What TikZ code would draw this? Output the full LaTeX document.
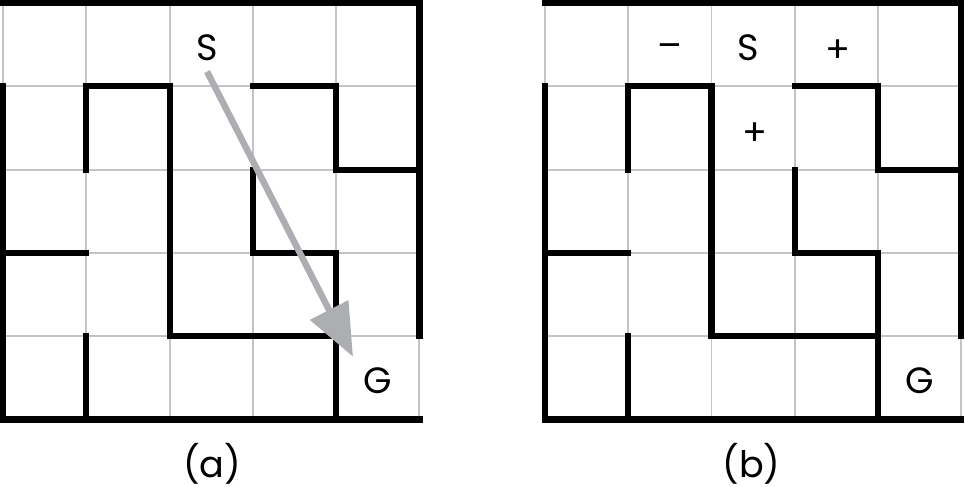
\documentclass[tikz,border=0pt]{standalone}
\usepackage{fontspec}
\setmainfont{Poppins}
\usetikzlibrary{positioning, calc, arrows.meta}
\definecolor{cellgray}{RGB}{196,196,198}
\definecolor{arrowgray}{RGB}{172,174,178}
\tikzset{gridline/.style={cellgray, line width=0.65pt}}
\tikzset{wall/.style={black, line width=2.1pt, line cap=rect, line join=miter}}
\tikzset{lbl/.style={inner sep=0.12cm, font=\fontsize{12.5}{15}\selectfont}}

\begin{document}
\begin{tikzpicture}[x=1cm, y=-1cm]
      \useasboundingbox (-0.036,-0.036) rectangle (11.55,5.80);

      % maze (a)
      \begin{scope}
        \draw[gridline] (0,0) grid (5,5);
        \foreach \w in {{(0,0)--(5,0)--(5,4)}, {(0,1)--(0,5)--(5,5)},
            {(1,2)--(1,1)--(2,1)--(2,4)--(4,4)--(4,5)}, {(3,1)--(4,1)--(4,2)--(5,2)},
            {(3,2)--(3,3)--(4,3)--(4,4)}, {(0,3)--(1,3)}, {(1,4)--(1,5)}}
          \draw[wall] \w;
        \node[lbl] (sa) at (2.45,0.54) {S};
        \node[lbl] (ga) at (4.50,4.53) {G};
        \draw[arrowgray, line width=2.2pt, -{Triangle[length=0.63cm, width=0.5cm]}] (sa.south) -- (ga.north west);
        \node[lbl] (capa) at (2.51,5.53) {(a)};
      \end{scope}

      % maze (b)
      \begin{scope}[xshift=6.506cm]
        \draw[gridline] (0,0) grid (5,5);
        \foreach \w in {{(0,0)--(5,0)--(5,4)}, {(0,1)--(0,5)--(5,5)},
            {(1,2)--(1,1)--(2,1)--(2,4)--(4,4)--(4,5)}, {(3,1)--(4,1)--(4,2)--(5,2)},
            {(3,2)--(3,3)--(4,3)--(4,4)}, {(0,3)--(1,3)}, {(1,4)--(1,5)}}
          \draw[wall] \w;
        \node[lbl] (sb) at (2.44,0.54) {S};
        \node[lbl] (minus) at (1.50,0.58) {–};
        \node[lbl] (plusr) at (3.52,0.58) {+};
        \node[lbl] (plusd) at (2.52,1.58) {+};
        \node[lbl] (gb) at (4.50,4.53) {G};
        \node[lbl] (capb) at (2.48,5.53) {(b)};
      \end{scope}
\end{tikzpicture}
\end{document}
